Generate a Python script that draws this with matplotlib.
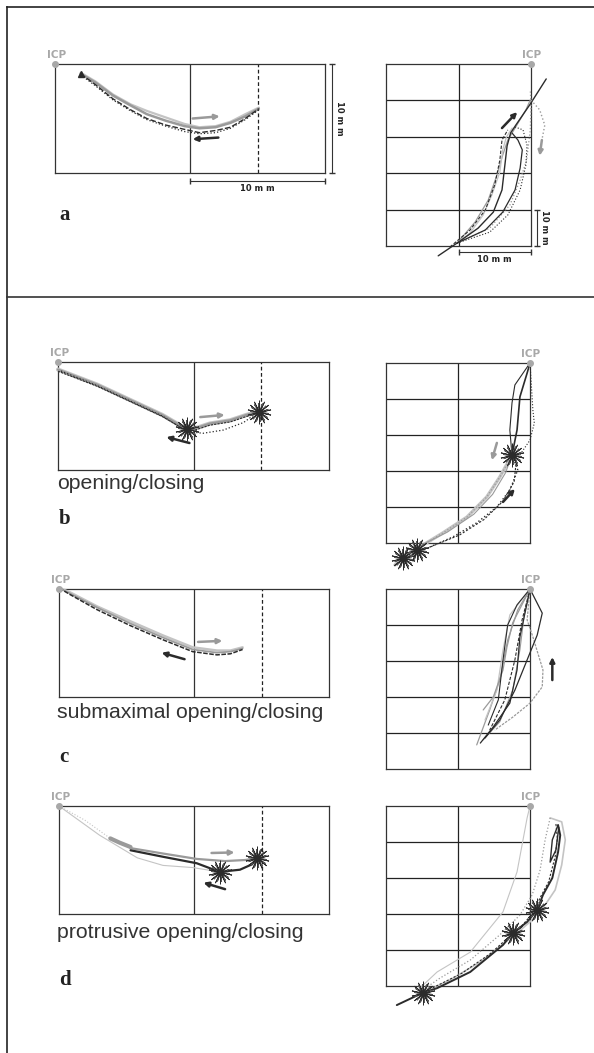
import matplotlib
matplotlib.use("Agg")
import matplotlib.pyplot as plt
from matplotlib.lines import Line2D

W, H = 594, 1053
DARK = "#2b2b2b"
GRAY = "#9a9a9a"
LIGHT = "#c4c4c4"
ICPC = "#a8a8a8"

# ---------------- data (mm) ----------------
# panel a, frontal view (x: 0..20, y: -10..0)
A_L_X = [1.9, 3.0, 4.3, 5.6, 6.8, 8.2, 9.6, 10.7, 11.9, 13.0, 14.1, 15.1]
A_L_OPEN_Y = [-0.9, -1.7, -2.9, -3.8, -4.6, -5.2, -5.7, -5.9, -5.8, -5.4, -4.8, -4.1]
A_L_CLOSE_Y = [-0.9, -1.9, -3.2, -4.2, -5.0, -5.6, -6.0, -6.3, -6.1, -5.8, -5.0, -4.1]
A_L_DOT_Y = [-1.0, -2.0, -3.3, -4.3, -5.1, -5.7, -6.2, -6.4, -6.3, -5.9, -5.1, -4.2]
A_L_LIGHT_Y = [-0.8, -1.6, -2.8, -3.7, -4.3, -4.9, -5.5, -5.8, -5.7, -5.3, -4.6, -4.0]

# panel a, sagittal view (x: -20..0, y: -50..0)
A_R_T1_X = [-12.8, -10.2, -7.3, -5.2, -4.0, -3.6, -3.3, -2.8, -2.1, -0.1, 2.1]
A_R_T1_Y = [-52.7, -49.2, -45.1, -40.7, -34.6, -27.7, -22.5, -18.9, -16.8, -11.0, -4.1]
A_R_T2_X = [-10.2, -6.3, -3.9, -2.2, -1.5, -1.2, -1.8, -2.6]
A_R_T2_Y = [-49.2, -45.6, -40.7, -34.6, -28.6, -23.6, -20.9, -19.0]
A_R_T3_X = [-10.2, -7.7, -5.9, -4.7, -3.9, -3.2, -2.2, -0.7, -0.1]
A_R_T3_Y = [-49.2, -43.4, -37.4, -30.5, -25.0, -20.9, -17.6, -12.6, -9.9]
A_R_T4_X = [-10.2, -5.7, -2.9, -1.5, -0.6, -0.1, 0.0, -0.1]
A_R_T4_Y = [-49.2, -45.1, -38.7, -31.9, -26.4, -18.1, -11.3, -7.1]
A_R_T5_X = [-11.2, -8.4, -6.3, -5.0, -4.3, -4.0, -3.2]
A_R_T5_Y = [-50.3, -45.6, -40.1, -33.2, -26.4, -20.9, -18.1]
A_R_T6_X = [-10.2, -8.4, -6.6, -5.4, -4.3, -3.9, -3.4, -2.6]
A_R_T6_Y = [-49.2, -46.4, -41.5, -36.0, -29.7, -23.6, -20.1, -17.6]
A_R_T7_X = [-10.2, -5.7, -3.2, -1.5, -0.7, -0.55, -1.1, -2.2]
A_R_T7_Y = [-49.2, -46.2, -41.5, -34.6, -27.7, -22.3, -18.1, -17.3]
A_R_LOOP_X = [0.0, 1.2, 1.9, 1.5]
A_R_LOOP_Y = [-9.9, -12.6, -16.8, -20.9]

# panel b
B_L_OPEN_X = [0.0, 2.9, 5.3, 7.7, 9.2, 10.0, 11.2, 12.7, 13.9, 14.8]
B_L_OPEN_Y = [-0.7, -2.1, -3.5, -4.9, -6.0, -6.2, -5.7, -5.4, -4.9, -4.6]
B_L_CLOSE_X = [14.8, 13.7, 12.2, 10.7, 10.0, 9.2, 7.7, 5.3, 2.9, 0.15]
B_L_CLOSE_Y = [-4.6, -5.6, -6.3, -6.6, -6.5, -6.2, -5.0, -3.6, -2.2, -0.8]
B_L_STAR_X = [9.5, 14.8]
B_L_STAR_Y = [-6.2, -4.6]

B_R_U1_X = [0.0, -0.4, -1.4, -1.8, -2.5]
B_R_U1_Y = [0.0, -2.8, -9.4, -18.6, -25.6]
B_R_U2_X = [0.0, 0.4, 0.6, 0.0, -1.7]
B_R_U2_Y = [0.0, -13.1, -16.7, -21.4, -26.4]
B_R_U3_X = [0.0, -2.1, -2.5, -2.8, -2.5]
B_R_U3_Y = [0.0, -6.1, -11.1, -18.6, -25.6]
B_R_L1_X = [-2.5, -4.2, -6.0, -8.75, -12.1, -15.3, -17.6, -18.75]
B_R_L1_Y = [-25.6, -31.7, -37.2, -42.8, -47.2, -51.1, -53.9, -56.1]
B_R_L2_X = [-2.5, -1.7, -2.8, -4.6, -7.4, -10.7, -13.9, -16.7, -18.75]
B_R_L2_Y = [-25.6, -29.7, -35.3, -40.0, -44.4, -48.3, -51.1, -53.1, -56.1]
B_R_L3_X = [-2.5, -3.4, -5.2, -7.8, -11.5, -15.0, -17.6]
B_R_L3_Y = [-25.6, -30.5, -36.5, -42.0, -47.0, -50.5, -54.2]
B_R_L4_X = [-1.9, -2.2, -3.8, -6.4, -9.8, -13.5, -17.0]
B_R_L4_Y = [-27.0, -33.0, -38.5, -43.5, -47.8, -50.8, -53.8]
B_R_STAR_X = [-2.5, -17.6, -15.7]
B_R_STAR_Y = [-25.6, -54.2, -51.9]

# panel c
C_L_X = [0.0, 0.8, 2.8, 5.3, 7.7, 9.9, 11.7, 12.7, 13.6]
C_L_Y1 = [0.1, -0.4, -1.7, -3.2, -4.5, -5.6, -5.9, -5.8, -5.5]
C_L_Y2 = [0.1, -0.5, -1.9, -3.4, -4.7, -5.8, -6.1, -6.0, -5.6]
C_L_Y3 = [0.1, -0.3, -1.6, -3.0, -4.3, -5.4, -5.7, -5.7, -5.4]

C_R_1_X = [0.0, -2.4, -3.2, -3.75, -5.1, -6.5]
C_R_1_Y = [0.0, -9.4, -16.1, -22.5, -30.0, -33.6]
C_R_2_X = [0.0, -0.4, -1.4, -1.8, -2.8, -5.1, -6.9]
C_R_2_Y = [0.0, -3.9, -13.3, -22.5, -31.7, -38.3, -42.8]
C_R_3_X = [0.0, 1.7, 1.0, -0.4, -2.1, -4.2, -6.25]
C_R_3_Y = [0.0, -6.7, -12.8, -19.7, -28.1, -36.4, -41.4]
C_R_4_X = [0.0, -0.4, 0.4, 1.8, 1.7, 0.0, -2.4, -4.9]
C_R_4_Y = [0.0, -8.6, -13.3, -22.5, -27.2, -31.7, -35.6, -39.2]
C_R_5_X = [0.0, -1.7, -3.1, -4.2, -5.6, -7.4]
C_R_5_Y = [0.0, -5.8, -14.2, -25.3, -33.6, -43.3]
C_R_6_X = [0.0, -1.1, -2.1, -3.5, -5.6]
C_R_6_Y = [0.0, -8.6, -19.7, -30.8, -39.2]
C_R_7_X = [0.0, -2.8, -3.75, -4.6, -6.25]
C_R_7_Y = [0.0, -7.2, -16.9, -28.1, -36.4]
C_R_8_X = [0.0, -1.8, -3.1, -3.75, -4.4, -5.8]
C_R_8_Y = [0.0, -4.4, -10.0, -19.7, -30.8, -37.8]
C_R_9_X = [0.0, -0.8, -1.4, -2.4, -4.2, -6.5]
C_R_9_Y = [0.0, -7.2, -16.9, -28.1, -36.9, -41.9]

# panel d
D_L_THIN_X = [0.0, 1.9, 3.8]
D_L_THIN_Y = [0.0, -1.3, -3.0]
D_L_BLOB_X = [3.8, 4.5, 5.3]
D_L_BLOB_Y = [-3.0, -3.4, -3.8]
D_L_DARK_X = [5.3, 7.7, 10.2, 11.9, 13.4, 14.3, 14.7]
D_L_DARK_Y = [-4.1, -4.7, -5.3, -6.1, -5.9, -5.4, -4.8]
D_L_GRAY_X = [5.3, 7.7, 10.2, 12.3, 13.8, 14.7]
D_L_GRAY_Y = [-3.9, -4.4, -4.9, -5.1, -5.0, -4.8]
D_L_LOW_X = [0.0, 3.0, 5.8, 7.7, 9.9, 11.9]
D_L_LOW_Y = [0.0, -2.7, -4.8, -5.5, -5.7, -6.1]
D_L_STAR_X = [11.9, 14.7]
D_L_STAR_Y = [-6.1, -4.8]

D_R_THIN_X = [0.0, -0.4, -1.8, -3.75, -8.3, -12.9, -15.3, -15.7]
D_R_THIN_Y = [0.0, -3.3, -18.3, -29.4, -40.6, -46.1, -50.6, -52.5]
D_R_DARK_X = [3.9, 4.2, 3.9, 3.1, 1.8, 1.0, -0.4, -2.4, -3.75, -8.3, -12.9, -14.9, -18.5]
D_R_DARK_Y = [-5.3, -8.1, -12.8, -20.0, -24.7, -28.9, -32.2, -35.3, -38.6, -46.1, -50.6, -51.9, -55.3]
D_R_DASH_X = [3.6, 3.8, 3.5, 2.6, 1.4, 0.5, -1.0, -3.0, -5.5, -9.5, -13.5]
D_R_DASH_Y = [-5.0, -9.0, -14.0, -21.0, -25.5, -29.5, -33.0, -36.5, -41.0, -46.5, -50.5]
D_R_OUT_X = [2.8, 4.4, 4.9, 4.4, 3.5, 2.1, 0.0, -2.1, -6.9, -11.1, -14.9]
D_R_OUT_Y = [-3.3, -4.4, -9.4, -16.4, -23.3, -27.5, -32.2, -35.8, -43.3, -48.3, -51.9]
D_R_IN_X = [2.8, 2.1, 1.4, 0.3, -1.4, -4.2, -8.3, -12.5, -14.9]
D_R_IN_Y = [-3.3, -9.4, -17.8, -24.7, -30.3, -35.8, -42.8, -47.8, -51.1]
D_R_LOOP_X = [3.9, 3.1, 2.8, 3.6, 4.0]
D_R_LOOP_Y = [-5.3, -9.4, -15.6, -12.2, -6.0]
D_R_STAR_X = [1.0, -2.4, -14.9]
D_R_STAR_Y = [-28.9, -35.3, -51.9]

SUBLABELS = ["opening/closing", "submaximal opening/closing", "protrusive opening/closing"]
LETTERS = ["a", "b", "c", "d"]

# ---------------- figure ----------------
fig = plt.figure(figsize=(W / 100, H / 100), dpi=100)


def px_axes(x0, y0, x1, y1):
    ax = fig.add_axes([x0 / W, 1 - y1 / H, (x1 - x0) / W, (y1 - y0) / H])
    ax.set_xticks([])
    ax.set_yticks([])
    for s in ax.spines.values():
        s.set_color("#333333")
        s.set_linewidth(0.9)
    ax.patch.set_alpha(0)
    return ax


def left_box(ax):
    ax.set_xlim(0, 20)
    ax.set_ylim(-10, 0)
    ax.axvline(10, color="#333333", lw=0.9)
    ax.axvline(15, color="#222222", lw=0.9, ls=(0, (3, 2)))
    ax.plot([0], [0], "o", color=ICPC, ms=4, clip_on=False, zorder=5)
    ax.text(0.1, 0.8, "ICP", color=ICPC, fontsize=7.5, fontweight="bold",
            ha="center", va="center", clip_on=False)


def right_box(ax):
    ax.set_xlim(-20, 0)
    ax.set_ylim(-50, 0)
    ax.axvline(-10, color="#222222", lw=0.9)
    for yy in (-10, -20, -30, -40):
        ax.axhline(yy, color="#222222", lw=0.9)
    ax.plot([0], [0], "o", color=ICPC, ms=4, clip_on=False, zorder=5)
    ax.text(0.1, 2.4, "ICP", color=ICPC, fontsize=7.5, fontweight="bold",
            ha="center", va="center", clip_on=False)


def tr(ax, xs, ys, color, lw=1.0, ls="-", z=3):
    ax.plot(xs, ys, color=color, lw=lw, ls=ls, clip_on=False, zorder=z,
            solid_capstyle="round", solid_joinstyle="round")


def star(ax, xs, ys, size=16):
    for ms, ang, c in [(size, 0, DARK), (size * 0.8, 7, "#555555"), (size * 0.55, 3, DARK)]:
        ax.plot(xs, ys, ls="none", marker=(14, 2, ang), ms=ms, mec=c, mew=0.6,
                clip_on=False, zorder=6)


def arrow(ax, tail, tip, color):
    ax.annotate("", xy=tip, xytext=tail,
                arrowprops=dict(arrowstyle="-|>", color=color, lw=1.8,
                                mutation_scale=7, shrinkA=0, shrinkB=0),
                annotation_clip=False, zorder=7)


def scale_text(ax, x, y, rot=0):
    ax.text(x, y, "10 m m", fontsize=6, fontweight="bold", ha="center", va="center",
            rotation=rot, color="#222222")


# ---------- frame ----------
fig.add_artist(Line2D([7 / W, 7 / W], [0, 1 - 7 / H], color="#222222", lw=1.2))
fig.add_artist(Line2D([7 / W, 1], [1 - 7 / H, 1 - 7 / H], color="#222222", lw=1.2))
fig.add_artist(Line2D([7 / W, 1], [1 - 297 / H, 1 - 297 / H], color="#333333", lw=1.2))

# ---------- panel a ----------
ax = px_axes(55, 64, 325, 173)
left_box(ax)
tr(ax, A_L_X, A_L_LIGHT_Y, LIGHT, 1.6)
tr(ax, A_L_X, A_L_OPEN_Y, GRAY, 1.8)
tr(ax, A_L_X, A_L_DOT_Y, DARK, 0.9, ":")
tr(ax, A_L_X, A_L_CLOSE_Y, DARK, 1.0, (0, (4, 1.5)))
ax.plot(A_L_X[:1], A_L_OPEN_Y[:1], marker="^", color=DARK, ms=4, zorder=6)
arrow(ax, (10.2, -5.0), (12.2, -4.8), GRAY)
arrow(ax, (12.1, -6.75), (10.2, -6.9), DARK)
ax.plot([10, 20], [-10.75, -10.75], color="#333333", lw=0.8, clip_on=False)
ax.plot([10, 20], [-10.75, -10.75], ls="none", marker="|", ms=4, color="#333333", clip_on=False)
scale_text(ax, 15, -11.45)
ax.plot([20.5, 20.5], [0, -10], color="#333333", lw=0.8, clip_on=False)
ax.plot([20.5, 20.5], [0, -10], ls="none", marker="_", ms=4, color="#333333", clip_on=False)
scale_text(ax, 21.05, -5, -90)

ax = px_axes(386, 64, 531, 246)
right_box(ax)
tr(ax, A_R_T4_X, A_R_T4_Y, GRAY, 0.9, ":")
tr(ax, A_R_T3_X, A_R_T3_Y, GRAY, 0.9)
tr(ax, A_R_T6_X, A_R_T6_Y, LIGHT, 0.9)
tr(ax, A_R_T7_X, A_R_T7_Y, DARK, 0.8, ":")
tr(ax, A_R_T5_X, A_R_T5_Y, DARK, 0.8, (0, (3, 1.5)))
tr(ax, A_R_T2_X, A_R_T2_Y, DARK, 0.9)
tr(ax, A_R_T1_X, A_R_T1_Y, DARK, 1.0)
tr(ax, A_R_LOOP_X, A_R_LOOP_Y, GRAY, 1.0, ":")
arrow(ax, (1.5, -20.9), (1.2, -25.2), GRAY)
arrow(ax, (-4.0, -17.6), (-1.9, -13.2), DARK)
ax.plot([-10, 0], [-51.6, -51.6], color="#333333", lw=0.8, clip_on=False)
ax.plot([-10, 0], [-51.6, -51.6], ls="none", marker="|", ms=4, color="#333333", clip_on=False)
scale_text(ax, -5, -53.8)
ax.plot([0.85, 0.85], [-40, -50], color="#333333", lw=0.8, clip_on=False)
ax.plot([0.85, 0.85], [-40, -50], ls="none", marker="_", ms=4, color="#333333", clip_on=False)
scale_text(ax, 1.9, -45, -90)

# ---------- panel b ----------
ax = px_axes(58, 362, 329, 470)
left_box(ax)
tr(ax, B_L_OPEN_X, B_L_OPEN_Y, LIGHT, 3.0)
tr(ax, B_L_OPEN_X, B_L_OPEN_Y, GRAY, 1.6)
tr(ax, B_L_CLOSE_X, B_L_CLOSE_Y, DARK, 0.9, ":")
tr(ax, B_L_OPEN_X, [v - 0.15 for v in B_L_OPEN_Y], DARK, 0.8, (0, (2, 1)))
star(ax, B_L_STAR_X, B_L_STAR_Y, 17)
arrow(ax, (10.5, -5.1), (12.3, -4.9), GRAY)
arrow(ax, (9.7, -7.5), (8.0, -6.95), DARK)

ax = px_axes(386, 363, 530, 543)
right_box(ax)
tr(ax, B_R_U2_X, B_R_U2_Y, DARK, 0.8, ":")
tr(ax, B_R_U3_X, B_R_U3_Y, DARK, 0.8)
tr(ax, B_R_U1_X, B_R_U1_Y, DARK, 1.2)
tr(ax, B_R_L1_X, B_R_L1_Y, LIGHT, 2.4)
tr(ax, B_R_L1_X, B_R_L1_Y, GRAY, 0.9, ":")
tr(ax, B_R_L3_X, B_R_L3_Y, GRAY, 0.8)
tr(ax, B_R_L4_X, B_R_L4_Y, DARK, 0.8, (0, (2, 1.5)))
tr(ax, B_R_L2_X, B_R_L2_Y, DARK, 1.0, ":")
star(ax, B_R_STAR_X, B_R_STAR_Y, 17)
arrow(ax, (-4.6, -22.2), (-5.3, -27.0), GRAY)
arrow(ax, (-3.75, -38.6), (-2.1, -35.0), DARK)

# ---------- panel c ----------
ax = px_axes(59, 589, 329, 697)
left_box(ax)
tr(ax, C_L_X, C_L_Y3, LIGHT, 1.8)
tr(ax, C_L_X, C_L_Y1, GRAY, 1.2)
tr(ax, C_L_X, C_L_Y2, DARK, 1.1, (0, (3, 1)))
arrow(ax, (10.3, -4.9), (12.1, -4.8), GRAY)
arrow(ax, (9.3, -6.5), (7.6, -5.9), DARK)

ax = px_axes(386, 589, 530, 769)
right_box(ax)
tr(ax, C_R_4_X, C_R_4_Y, GRAY, 0.9, (0, (2, 1)))
tr(ax, C_R_5_X, C_R_5_Y, GRAY, 0.9)
tr(ax, C_R_7_X, C_R_7_Y, LIGHT, 0.9)
tr(ax, C_R_9_X, C_R_9_Y, GRAY, 0.8)
tr(ax, C_R_1_X, C_R_1_Y, GRAY, 0.9)
tr(ax, C_R_8_X, C_R_8_Y, DARK, 0.8)
tr(ax, C_R_2_X, C_R_2_Y, DARK, 0.9)
tr(ax, C_R_6_X, C_R_6_Y, DARK, 0.8, (0, (3, 1.5)))
tr(ax, C_R_3_X, C_R_3_Y, DARK, 0.9)
arrow(ax, (3.1, -25.3), (3.1, -18.9), DARK)

# ---------- panel d ----------
ax = px_axes(59, 806, 329, 914)
left_box(ax)
tr(ax, D_L_THIN_X, D_L_THIN_Y, LIGHT, 0.8, ":")
tr(ax, D_L_LOW_X, D_L_LOW_Y, LIGHT, 0.8)
tr(ax, D_L_BLOB_X, D_L_BLOB_Y, GRAY, 3.0)
tr(ax, D_L_GRAY_X, D_L_GRAY_Y, GRAY, 1.6)
tr(ax, D_L_DARK_X, D_L_DARK_Y, DARK, 1.6)
star(ax, D_L_STAR_X, D_L_STAR_Y, 17)
arrow(ax, (11.3, -4.35), (13.0, -4.3), GRAY)
arrow(ax, (12.3, -7.7), (10.7, -7.1), DARK)

ax = px_axes(386, 806, 530, 986)
right_box(ax)
tr(ax, D_R_THIN_X, D_R_THIN_Y, LIGHT, 0.8)
tr(ax, D_R_OUT_X, D_R_OUT_Y, LIGHT, 1.2)
tr(ax, D_R_IN_X, D_R_IN_Y, GRAY, 0.9, ":")
tr(ax, D_R_DASH_X, D_R_DASH_Y, DARK, 0.8, (0, (2, 1.5)))
tr(ax, D_R_DARK_X, D_R_DARK_Y, DARK, 1.4)
tr(ax, D_R_LOOP_X, D_R_LOOP_Y, DARK, 1.0)
star(ax, D_R_STAR_X, D_R_STAR_Y, 17)

# ---------- text labels ----------
for txt, y in zip(SUBLABELS, [483, 713, 932]):
    fig.text(57 / W, 1 - y / H, txt, fontsize=15.3, color="#333333",
             family="Liberation Sans", ha="left", va="center")
for let, y in zip(LETTERS, [215, 519, 757, 980]):
    fig.text(59 / W, 1 - y / H, let, fontsize=15, color="#222222",
             family="Liberation Serif", fontweight="bold", ha="left", va="center")

fig.savefig("out.png", dpi=100)
